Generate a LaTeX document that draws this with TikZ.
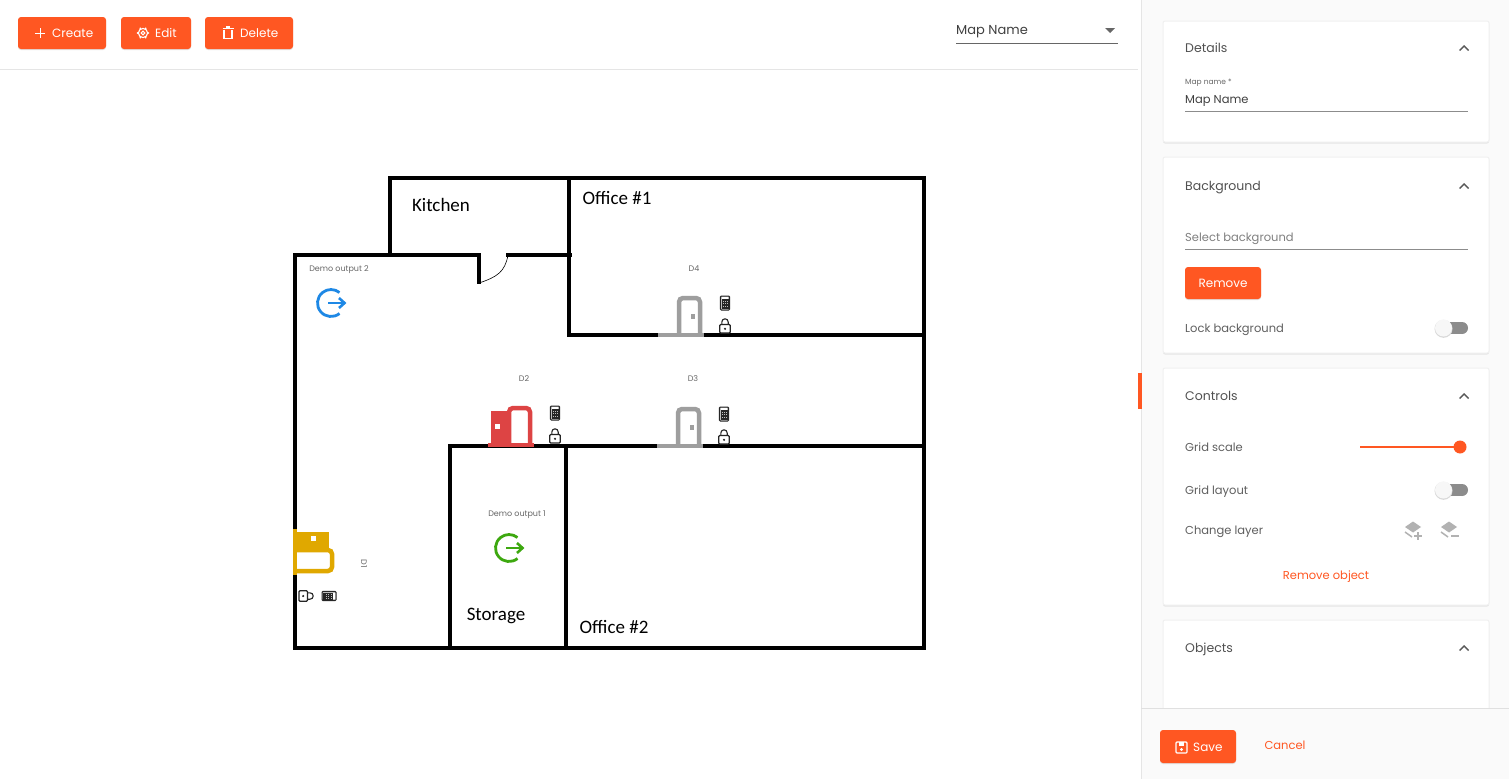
\documentclass[tikz,border=0pt]{standalone}
\usepackage{fontspec}
\setmainfont{Poppins}
\newfontfamily\planfont{Carlito}
\definecolor{accent}{HTML}{FF5722}
\definecolor{panelbg}{HTML}{FAFAFA}
\definecolor{doorgrey}{HTML}{9E9E9E}
\definecolor{doorred}{HTML}{DD4444}
\definecolor{dooryellow}{HTML}{E0A800}
\definecolor{exitblue}{HTML}{1E88E5}
\definecolor{exitgreen}{HTML}{3DA80F}
\definecolor{labelgrey}{HTML}{5F5F5F}
\tikzset{
	wall/.style={line width=3.2pt,line cap=rect},
	btn/.style={fill=accent,rounded corners=3pt,preaction={fill=black!12,transform canvas={yshift=-1pt}}},
	card/.style={fill=white,draw=black!6,line width=1pt,rounded corners=2pt,preaction={fill=black!10,transform canvas={yshift=-1.5pt}}},
	btntext/.style={text=white,font=\fontsize{12}{14}\selectfont,inner sep=0pt,anchor=west},
	title/.style={text=labelgrey!85!black,font=\fontsize{12.5}{15}\selectfont,inner sep=0pt,anchor=west,text height=9pt,text depth=0pt},
	field/.style={text=labelgrey,font=\fontsize{11.5}{14}\selectfont,inner sep=0pt,anchor=west,text height=9pt,text depth=0pt},
	link/.style={text=accent,font=\fontsize{11.5}{14}\selectfont,inner sep=0pt,text height=9pt,text depth=0pt},
	tiny/.style={text=black!60,font=\fontsize{8}{10}\selectfont,inner sep=0pt,text height=6pt,text depth=0pt},
	room/.style={font=\planfont\fontsize{19}{22}\selectfont,inner sep=0pt,text height=13pt,text depth=0pt},
	pics/doorclosed/.style={code={
		\fill[doorgrey] (-23,-2) rectangle (23,2);
		\draw[doorgrey,line width=4.5pt,rounded corners=4pt] (-2,0) -- (-2,-37) -- (19,-37) -- (19,0);
		\fill[doorgrey] (9.5,-21) rectangle (14,-16);
	}},
	pics/dooropen/.style={code={
		\fill[#1] (-23,-2) rectangle (23,2);
		\draw[#1,line width=4.5pt,rounded corners=4pt] (-2,0) -- (-2,-37) -- (19,-37) -- (19,0);
		\fill[#1] (-20,-34) rectangle (-4,0);
		\fill[white] (-16,-21) rectangle (-11,-16);
	}},
	pics/keypad/.style={code={
		\draw[black!85,line width=1pt,rounded corners=1pt,fill=black!25] (-4.7,-7) rectangle (4.7,7);
		\fill[black!85] (-3.5,-4) rectangle (3.5,6);
		\fill[white] (-3,-5.6) rectangle (3,-3.6);
		\foreach \i in {-2,0,2} \foreach \j in {-2,0.5,3}
			\fill[white!75!black] (\i-.5,\j-.5) rectangle (\i+.5,\j+.5);
	}},
	pics/padlock/.style={code={
		\draw[black!85,line width=1.1pt] (-3.2,-1) -- (-3.2,-4) arc[start angle=180,end angle=360,radius=3.2] -- (3.2,-1);
		\draw[black!85,line width=1.2pt,rounded corners=1pt,fill=white] (-5.2,-1.5) rectangle (5.2,7);
		\fill[black!85] (0,2.8) circle[radius=1.2];
	}},
	pics/exiticon/.style={code={
		\draw[#1,line width=2.8pt] (8.5,10.5) arc[start angle=51,end angle=309,radius=13.5];
		\draw[#1,line width=2.8pt] (-3,0) -- (12,0);
		\draw[#1,line width=2.6pt] (8,-5) -- (13.5,0) -- (8,5);
	}},
	pics/chevron/.style={code={
		\draw[black!65,line width=1.4pt] (-4.5,2.5) -- (0,-2) -- (4.5,2.5);
	}},
	pics/toggle/.style={code={
		\fill[black!45] (-11,-6) rectangle (4,6);
		\fill[black!45] (4,0) circle[radius=6];
		\fill[black!15] (-14.5,0.8) circle[radius=9];
		\fill[white!97!black] (-14.5,0) circle[radius=8.5];
	}},
	pics/layericon/.style={code={
		\fill[black!30] (-8,-3) -- (0,-8.5) -- (8,-3) -- (0,2.5) -- cycle;
		\draw[black!30,line width=1.5pt] (-8,2) -- (-1,7);
	}},
}
\begin{document}
\begin{tikzpicture}[x=1pt,y=-1pt]
	\useasboundingbox (0,0) rectangle (1509,779);
	\fill[white] (0,0) rectangle (1509,779);

	% top bar
	\draw[black!10,line width=1pt] (0,69) -- (1138,69);
	\path[btn] (18,17) rectangle (106,49);
	\path[btn] (121,17) rectangle (191,49);
	\path[btn] (205,17) rectangle (293,49);
	\draw[white,line width=1pt] (35,33) -- (45,33) (40,28) -- (40,38);
	\node[btntext](createlabel) at (52,33) {Create};
	\draw[white,line width=1.1pt] (143,33) circle[radius=4.6];
	\draw[white,line width=1pt] (143,33) circle[radius=1.8];
	\foreach \a in {0,60,...,300}
		\fill[white] (143,33) ++(\a:5.4) circle[radius=.9];
	\node[btntext](editlabel) at (155,33) {Edit};
	\draw[white,line width=1.1pt] (224,29.5) -- (224,38.5) -- (232,38.5) -- (232,29.5);
	\draw[white,line width=1.1pt] (222.5,28.5) -- (233.5,28.5) (226,27) -- (230,27);
	\node[btntext](deletelabel) at (240,33) {Delete};
	\node[field,text=black!75,font=\fontsize{13}{15}\selectfont](mapselect) at (956,30) {Map Name};
	\draw[black!60,line width=1pt] (956,43) -- (1118,43);
	\fill[black!60] (1105,28) -- (1115,28) -- (1110,33) -- cycle;

	% plan
	\draw[wall] (390,255) -- (295,255) -- (295,648) -- (924,648) -- (924,178) -- (390,178) -- (390,255) -- (479,255) -- (479,282);
	\draw[wall] (508,255) -- (570,255);
	\draw[wall] (569,178) -- (569,335) -- (924,335);
	\draw[wall] (450,446) -- (924,446);
	\draw[wall] (450,446) -- (450,648);
	\draw[wall] (566,446) -- (566,648);
	\draw[black,line width=.6pt] (479,283) .. controls (497,277) and (505,272) .. (508,255);
	\node[room](kitchen) at (441,205) {Kitchen};
	\node[room](office1) at (617,198) {Office \#1};
	\node[room](storage) at (496,614) {Storage};
	\node[room](office2) at (614,627) {Office \#2};

	% objects
	\pic at (681,335) {doorclosed};
	\pic at (680,446) {doorclosed};
	\pic at (511,445) {dooropen=doorred};
	\pic[rotate=-90] at (295,552) {dooropen=dooryellow};
	\pic at (725,303) {keypad};
	\pic at (725,326) {padlock};
	\pic at (555,413) {keypad};
	\pic at (555,436) {padlock};
	\pic at (724,414) {keypad};
	\pic at (724,437) {padlock};
	\pic[rotate=-90] at (306,596) {padlock};
	\pic[rotate=-90] at (329,596) {keypad};
	\pic at (331,303) {exiticon=exitblue};
	\pic at (509,548) {exiticon=exitgreen};
	\node[tiny](d2) at (524,378) {D2};
	\node[tiny](d3) at (693,378) {D3};
	\node[tiny](d4) at (694,268) {D4};
	\node[tiny,rotate=-90](d1) at (364,564) {D1};
	\node[tiny](output2) at (339,268) {Demo output 2};
	\node[tiny](output1) at (517,513) {Demo output 1};

	% side panel
	\fill[panelbg] (1141,0) rectangle (1509,779);
	\draw[black!10,line width=1pt] (1141,0) -- (1141,779);
	\fill[accent] (1138,373) rectangle (1142,409);
	\path[card] (1163,21) rectangle (1489,142);
	\path[card] (1163,157) rectangle (1489,353);
	\path[card] (1163,368) rectangle (1489,605);
	\path[card] (1163,620) rectangle (1489,720);
	\fill[panelbg] (1142,709) rectangle (1509,779);
	\draw[black!12,line width=1pt] (1141,708) -- (1509,708);

	\node[title](details) at (1185,48) {Details};
	\pic at (1464,48) {chevron};
	\node[tiny,anchor=west,font=\fontsize{7.5}{9}\selectfont](mapnamelabel) at (1185,81) {Map name *};
	\node[field,text=black!75](mapname) at (1185,99) {Map Name};
	\draw[black!45,line width=1pt] (1185,111) -- (1468,111);

	\node[title](background) at (1185,186) {Background};
	\pic at (1464,186) {chevron};
	\node[field,text=black!50](selectbg) at (1185,237) {Select background};
	\draw[black!45,line width=1pt] (1185,249) -- (1468,249);
	\path[btn] (1185,267) rectangle (1261,299);
	\node[btntext,anchor=center](removebtn) at (1223,283) {Remove};
	\node[field](lockbg) at (1185,328) {Lock background};
	\pic at (1458,328) {toggle};

	\node[title](controls) at (1185,396) {Controls};
	\pic at (1464,396) {chevron};
	\node[field](gridscale) at (1185,447) {Grid scale};
	\draw[accent,line width=1.2pt] (1360,447) -- (1460,447);
	\fill[accent] (1460,447) circle[radius=6.5];
	\node[field](gridlayout) at (1185,490) {Grid layout};
	\pic at (1458,490) {toggle};
	\node[field](changelayer) at (1185,530) {Change layer};
	\pic at (1413,530) {layericon};
	\draw[black!30,line width=1.3pt] (1414,536) -- (1422,536) (1418,532) -- (1418,540);
	\pic at (1449,530) {layericon};
	\draw[black!30,line width=1.3pt] (1451,536) -- (1459,536);
	\node[link](removeobject) at (1326,575) {Remove object};

	\node[title](objects) at (1185,648) {Objects};
	\pic at (1464,648) {chevron};

	\path[btn] (1160,730) rectangle (1236,763);
	\draw[white,line width=1.1pt,rounded corners=1pt] (1176,742) rectangle (1187,753);
	\fill[white] (1179,742) rectangle (1184,745.5);
	\fill[white] (1181.5,749.5) circle[radius=1.6];
	\node[btntext](savelabel) at (1193,747) {Save};
	\node[link](cancel) at (1285,745) {Cancel};
\end{tikzpicture}
\end{document}
